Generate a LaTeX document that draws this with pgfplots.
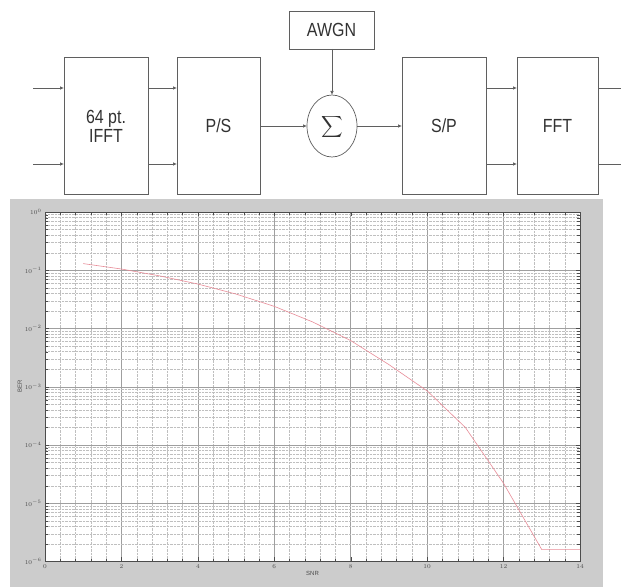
\documentclass[border=0pt]{standalone}
\usepackage{pgfplots}
\pgfplotsset{compat=1.18}
\usepackage{fontspec}
\setmainfont{Liberation Sans}
\usetikzlibrary{arrows.meta}
\definecolor{figgray}{RGB}{204,204,204}
\definecolor{dline}{RGB}{95,95,95}
\definecolor{dtext}{RGB}{50,50,50}
\definecolor{curve}{RGB}{232,140,152}
\pgfplotstableread{
x y
1 0.13
2 0.105
3 0.08
4 0.058
5 0.039
6 0.024
7 0.013
8 0.0062
9 0.0024
10 0.00085
11 0.0002
12 0.000022
13 0.0000016
14 0.0000016
}\bertable
\newcommand{\cond}[1]{\scalebox{0.84}[1]{#1}}
\begin{document}
\begin{tikzpicture}
\useasboundingbox (0,0) rectangle (621pt,587pt);
\begin{scope}[x=1pt,y=-1pt,yshift=587pt,
  blk/.style={draw=dline,line width=0.7pt},
  arr/.style={draw=dline,line width=0.7pt,-{Latex[length=4pt,width=3.5pt]}},
  lbl/.style={text=dtext,font=\fontsize{19}{20}\selectfont,align=center}]
  % boxes
  \draw[blk] (64,57) rectangle (148,194);
  \node[lbl] at (106,126) {\cond{64 pt.}\\[-1pt]\cond{IFFT}};
  \draw[blk] (177,57) rectangle (260,194);
  \node[lbl] at (218.5,126) {\cond{P/S}};
  \draw[blk] (289,11) rectangle (374,49);
  \node[lbl] at (331.5,30) {\cond{AWGN}};
  \draw[blk] (332,126) ellipse [x radius=25, y radius=31];
  \node[text=dtext] at (332,127) {\scalebox{1.5}{$\displaystyle\sum$}};
  \draw[blk] (402,57) rectangle (486,194);
  \node[lbl] at (444,126) {\cond{S/P}};
  \draw[blk] (517,57) rectangle (598,194);
  \node[lbl] at (557.5,126) {\cond{FFT}};
  % arrows
  \draw[arr] (33,88) -- (64,88);
  \draw[arr] (33,164) -- (64,164);
  \draw[arr] (148,88) -- (177,88);
  \draw[arr] (148,164) -- (177,164);
  \draw[arr] (260,126) -- (307,126);
  \draw[arr] (332,49) -- (332,95);
  \draw[arr] (357,126) -- (402,126);
  \draw[arr] (486,88) -- (517,88);
  \draw[arr] (486,164) -- (517,164);
  \draw[blk] (598,88) -- (621,88);
  \draw[blk] (598,164) -- (621,164);
  % grey figure panel
  \fill[figgray] (10,199) rectangle (603,587);
\end{scope}
\begin{axis}[
  at={(45pt,25.5pt)}, anchor=south west,
  scale only axis, width=535pt, height=349.5pt,
  ymode=log, log basis y=10,
  xmin=0, xmax=14, ymin=1e-6, ymax=1,
  xtick={0,2,...,14},
  ytick={1e-6,1e-5,1e-4,1e-3,1e-2,1e-1,1},
  minor ytick={2e-6,3e-6,4e-6,5e-6,6e-6,7e-6,8e-6,9e-6,
    2e-5,3e-5,4e-5,5e-5,6e-5,7e-5,8e-5,9e-5,
    2e-4,3e-4,4e-4,5e-4,6e-4,7e-4,8e-4,9e-4,
    2e-3,3e-3,4e-3,5e-3,6e-3,7e-3,8e-3,9e-3,
    2e-2,3e-2,4e-2,5e-2,6e-2,7e-2,8e-2,9e-2,
    0.2,0.3,0.4,0.5,0.6,0.7,0.8,0.9},
  minor x tick num=4,
  grid=both,
  major grid style={color=gray!75, line width=0.5pt},
  minor grid style={color=gray!50, line width=0.4pt, densely dotted},
  axis line style={color=gray!60!black, line width=0.6pt},
  tick style={color=gray!60!black},
  tick align=inside,
  axis background/.style={fill=white},
  tick label style={font=\fontsize{6}{7}\selectfont, text=gray!60!black},
  xlabel={SNR}, ylabel={BER},
  label style={font=\fontsize{6}{7}\selectfont, text=gray!60!black},
  xlabel style={yshift=4pt},
  ylabel style={yshift=-4pt},
]
\addplot[color=curve, line width=0.6pt, mark=none] table[x=x,y=y] {\bertable};
\end{axis}
\end{tikzpicture}
\end{document}
